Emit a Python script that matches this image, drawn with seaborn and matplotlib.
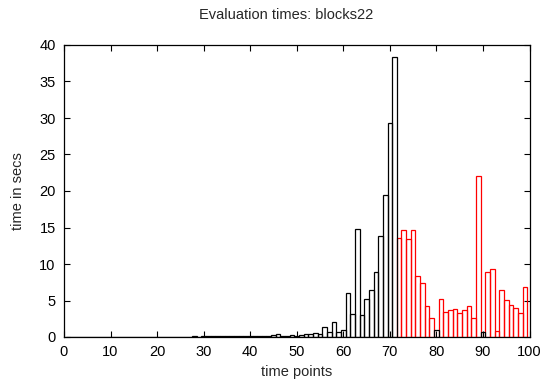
import matplotlib
matplotlib.use("Agg")
import matplotlib.pyplot as plt
import seaborn as sns
import pandas as pd

# time points 1..99, evaluation time in seconds
time_black = list(range(1, 100))
secs_black = [
    0.02, 0.02, 0.02, 0.03, 0.02, 0.02, 0.03, 0.02, 0.03, 0.03,
    0.03, 0.03, 0.03, 0.04, 0.03, 0.04, 0.04, 0.04, 0.04, 0.05,
    0.05, 0.05, 0.05, 0.06, 0.05, 0.06, 0.06, 0.07, 0.06, 0.07,
    0.07, 0.08, 0.08, 0.09, 0.08, 0.10, 0.10, 0.15, 0.12, 0.10,
    0.10, 0.12, 0.15, 0.20, 0.30, 0.35, 0.15, 0.20, 0.25, 0.20,
    0.27, 0.37, 0.45, 0.60, 0.45, 1.35, 0.64, 2.05, 0.64, 0.95,
    6.0, 3.2, 14.75, 2.95, 5.25, 6.5, 8.85, 13.9, 19.45, 29.3, 38.4,
    0, 0, 0, 0, 0, 0, 0, 0, 0.9,
    0, 0, 0, 0, 0, 0, 0, 0, 0, 0.65,
    0, 0, 0, 0, 0, 0, 0, 0, 0,
]

time_red = list(range(72, 100))
secs_red = [
    13.5, 14.6, 13.4, 14.65, 8.3, 7.4, 4.25, 2.55, 0.0, 5.15,
    3.4, 3.7, 3.85, 3.3, 3.65, 4.2, 2.55, 22.05, 0.0, 8.9,
    9.35, 0.8, 6.4, 5.07, 4.45, 3.95, 3.25, 6.8,
]

black = pd.DataFrame({'t': time_black, 'secs': secs_black})
red = pd.DataFrame({'t': time_red, 'secs': secs_red})
# no box for points without a time
black = black[black['secs'] > 0]
red = red[red['secs'] > 0]

sns.set_style('ticks')
plt.rcParams['font.family'] = ['Liberation Sans', 'DejaVu Sans']
plt.rcParams['xtick.direction'] = 'in'
plt.rcParams['ytick.direction'] = 'in'

fig = plt.figure(figsize=(5.43, 3.86), dpi=100)
ax = fig.add_axes([64 / 543, 1 - 337 / 386, 465.5 / 543, 292 / 386])

sns.barplot(data=red, x='t', y='secs', native_scale=True, fill=False,
            color='red', width=1, linewidth=0.9, errorbar=None, ax=ax)
sns.barplot(data=black, x='t', y='secs', native_scale=True, fill=False,
            color='black', width=1, linewidth=0.9, errorbar=None, ax=ax)

ax.set_xlim(0, 100)
ax.set_ylim(0, 40)
ax.set_xticks(range(0, 101, 10))
ax.set_yticks(range(0, 41, 5))
ax.tick_params(axis='both', which='both', top=True, right=True,
               length=4, width=0.8, labelsize=10.5, colors='black', pad=6)
for s in ax.spines.values():
    s.set_linewidth(0.9)
    s.set_color('black')

ax.set_xlabel('time points', fontsize=10.5, labelpad=4)
ax.set_ylabel('time in secs', fontsize=10.5, labelpad=10)
fig.text(286 / 543, 1 - 15 / 386, 'Evaluation times: blocks22',
         ha='center', va='center', fontsize=10.5)

fig.savefig('out.png', dpi=100)
